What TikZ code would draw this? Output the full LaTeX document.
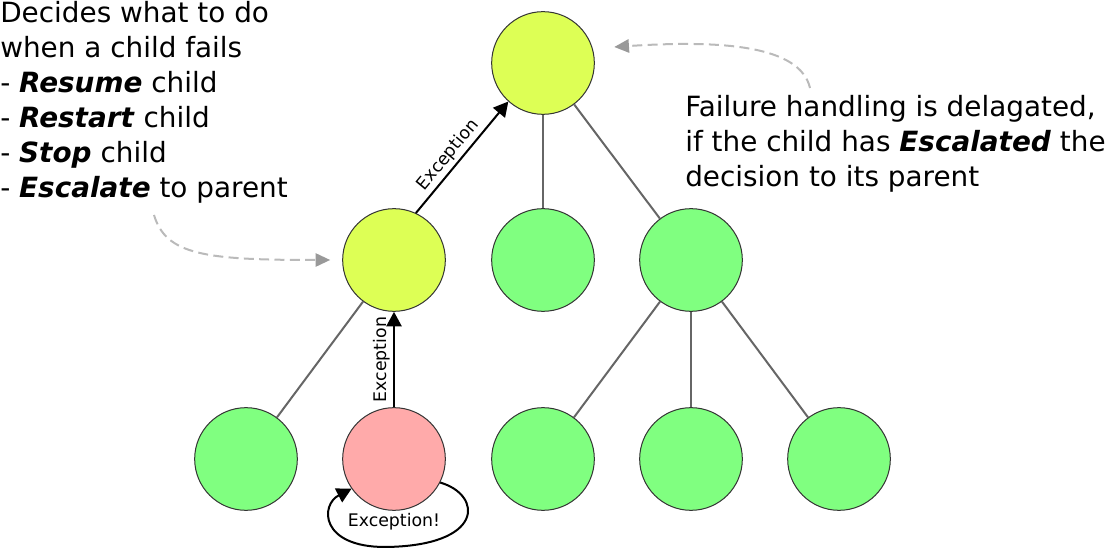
\documentclass[tikz,border=0pt]{standalone}
\usepackage{fontspec}
\setmainfont{DejaVu Sans}
\usepackage{tikz}
\usetikzlibrary{calc,arrows.meta,positioning,backgrounds}
\usepackage{xcolor}
\definecolor{supyellow}{HTML}{DDFF55}
\definecolor{okgreen}{HTML}{80FF80}
\definecolor{failred}{HTML}{FFAAAA}
\tikzset{
	actor/.style={circle,draw=black!80,line width=0.75pt,minimum size=77pt,inner sep=0pt},
	edge/.style={draw=black!60,line width=1.5pt},
	exc/.style={-{Triangle[length=11pt,width=11.5pt]},line width=1.5pt},
	hint/.style={draw=black!27,line width=1.5pt,dash pattern=on 7.5pt off 4pt,
		-{Triangle[length=11pt,width=10pt,color=black!40]}},
	bigtext/.style={font=\fontsize{20.9}{26.2}\selectfont,align=left,inner sep=0pt},
	smalltext/.style={font=\fontsize{13}{15}\selectfont,inner sep=2pt}
}
\newcommand{\bi}[1]{\textbf{\textit{#1}}}

\begin{document}
\begin{tikzpicture}[x=0.75pt,y=-0.75pt]
		\useasboundingbox (0,0) rectangle (1107,548);
		% the actors
		\node[actor,fill=supyellow] (r) at (543,63) {};
		\node[actor,fill=supyellow] (ml) at (394,260) {};
		\foreach \n/\x in {m2/543,m3/691}
		\node[actor,fill=okgreen] (\n) at (\x,260) {};
		\foreach \n/\x in {b1/246,b3/543,b4/691,b5/839}
		\node[actor,fill=okgreen] (\n) at (\x,459) {};
		\node[actor,fill=failred] (pk) at (394,459) {};
		
		% tree edges
		\foreach \a/\b in {r/m2,r/m3,ml/b1,m3/b3,m3/b4,m3/b5}
		\draw[edge] (\a) -- (\b);
		
		% exceptions
		\draw[exc] (pk) -- node[smalltext,sloped,above] {Exception} (ml);
		\draw[exc] (ml.65) -- node[smalltext,sloped,above,pos=0.45] {Exception} (r.228);
		\draw[exc] (pk.-27) .. controls (483,495) and (485,546) .. (385,547)
			.. controls (320,547) and (320,505) .. (pk.-145);
		\node[smalltext] (lpk) at (394,522) {Exception!};
		
		% texts
		\node[bigtext,anchor=north west] (dec) at (0,1)
		{Decides what to do\\when a child fails\\- \bi{Resume} child\\- \bi{Restart} child\\- \bi{Stop} child\\- \bi{Escalate} to parent};
		\node[bigtext,anchor=north west] (fail) at (685,95)
		{Failure handling is delagated,\\if the child has \bi{Escalated} the\\decision to its parent};
		
		% hints
		\coordinate (h1) at (154,215);
		\coordinate (h2) at (810,88);
		\draw[hint,shorten >=9pt] (h1) .. controls (166,255) and (205,260) .. (ml.west);
		\draw[hint] (h2) .. controls (800,45) and (720,40) .. ($(r.18)+(22,0)$);
	\end{tikzpicture}
\end{document}
